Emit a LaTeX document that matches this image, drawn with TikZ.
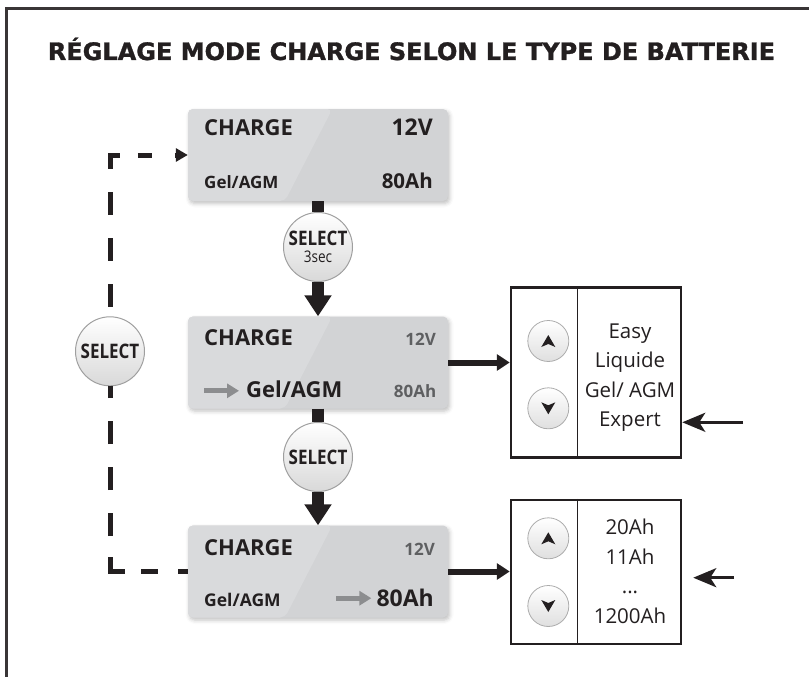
\documentclass[tikz,border=0pt]{standalone}
\usepackage{fontspec}
\setmainfont{Open Sans}
\newfontfamily\titlefont{DejaVu Sans Bold}[FakeBold=1.2]
\newfontfamily\btnfont[FakeStretch=0.85]{Open Sans}
\usetikzlibrary{arrows.meta,calc,shadows.blur}

\definecolor{lcdgray}{HTML}{D2D3D5}
\definecolor{lcdlight}{HTML}{D9DADC}
\definecolor{ink}{HTML}{231F20}
\definecolor{dimtext}{HTML}{5E5F61}
\definecolor{pointer}{HTML}{8C8D8F}

\begin{document}
\begin{tikzpicture}[
x=1pt, y=-1pt,
lcd/.style={
rounded corners=5pt,
fill=lcdgray,
minimum width=260pt,
minimum height=92pt,
blur shadow={shadow xshift=1.5pt, shadow yshift=-2.5pt,
shadow blur radius=4pt, shadow opacity=25},
path picture={\fill[lcdlight] (path picture bounding box.north west)
-- ($(path picture bounding box.north west)!0.555!(path picture bounding box.north east)$)
-- ($(path picture bounding box.south west)!0.373!(path picture bounding box.south east)$)
-- (path picture bounding box.south west) -- cycle;}
},
big/.style={font=\bfseries\fontsize{22}{26}\selectfont, text=ink, inner sep=0pt},
small/.style={font=\bfseries\fontsize{17}{20}\selectfont, text=ink, inner sep=0pt},
dim/.style={small, text=dimtext},
btn/.style={
circle,
draw=gray!75,
line width=1pt,
top color=white,
bottom color=gray!30,
minimum size=69pt,
inner sep=0pt,
align=center,
text=ink,
font=\btnfont\bfseries\fontsize{20}{20}\selectfont
},
key/.style={circle, draw=gray!65, line width=0.8pt,
top color=white, bottom color=gray!25, minimum size=41pt},
panel/.style={draw=ink, line width=2.5pt, minimum width=170pt, inner sep=0pt},
listtext/.style={font=\fontsize{20.5}{29.5}\selectfont, align=center,
text=ink, inner sep=0pt},
stub/.style={draw=ink, line width=12pt},
flow/.style={stub, -{Triangle[length=21pt,width=26pt]}},
side/.style={draw=ink, line width=6pt, -{Triangle[length=13pt,width=16pt]}},
feed/.style={draw=ink, line width=3pt, -{Stealth[length=23pt,width=19pt,inset=6pt]}},
loopline/.style={draw=ink, line width=5pt},
pointer/.style={draw=pointer, line width=5pt, -{Triangle[length=12pt,width=14pt]}}
]

\useasboundingbox (0,0) rectangle (809,677);

% frame and title
\draw[ink!90, line width=2.5pt] (812,8.5) -- (6.5,8.5) -- (6.5,680);
\node[anchor=base, font=\titlefont\fontsize{24}{28}\selectfont,
text=ink, inner sep=0pt] (title) at (411.5,60)
{RÉGLAGE MODE CHARGE SELON LE TYPE DE BATTERIE};

% displays
\node[lcd] (box1) at (318,155) {};
\node[lcd] (box2) at (318,362.5) {};
\node[lcd] (box3) at (318,571.5) {};

\node[big, anchor=base west] (chg1) at (204,135.7) {CHARGE};
\node[big, anchor=base east, font=\bfseries\fontsize{23}{26}\selectfont] (volt1) at (433,135.7) {12V};
\node[small, anchor=base west] (type1) at (204,188.3) {Gel/AGM};
\node[big, anchor=base east, font=\bfseries\fontsize{20.5}{24}\selectfont] (cap1) at (433,188.3) {80Ah};

\node[big, anchor=base west] (chg2) at (204,345.7) {CHARGE};
\node[dim, anchor=base east] (volt2) at (436,345.7) {12V};
\node[big, anchor=base west] (type2) at (246,397.3) {Gel/AGM};
\node[dim, anchor=base east] (cap2) at (436.5,397.3) {80Ah};

\node[big, anchor=base west] (chg3) at (204,555) {CHARGE};
\node[dim, anchor=base east] (volt3) at (435,555) {12V};
\node[small, anchor=base west, font=\bfseries\fontsize{17.5}{20}\selectfont] (type3) at (204,606.7) {Gel/AGM};
\node[big, anchor=base east, font=\bfseries\fontsize{23}{26}\selectfont] (cap3) at (434,606.7) {80Ah};

\draw[pointer] ([xshift=-42pt,yshift=6.5pt]type2.base west) -- ([xshift=-7pt,yshift=6.5pt]type2.base west);
\draw[pointer] ([xshift=-40pt,yshift=8.5pt]cap3.base west) -- ([xshift=-5pt,yshift=8.5pt]cap3.base west);

% select buttons
\node[btn] (sel1) at (318,247) {SELECT\\[-3pt]{\mdseries\fontsize{16}{16}\selectfont 3sec}};
\node[btn] (sel2) at (318,457) {SELECT};

\draw[stub] (box1.south) -- (sel1.north);
\draw[flow] (sel1.south) -- (box2.north);
\draw[stub] (box2.south) -- (sel2.north);
\draw[flow] (sel2.south) -- (box3.north);

% return loop
\coordinate (ctop) at (110,155);
\coordinate (cbot) at (110,571.5);
\node[btn] (selL) at (110,351.3) {SELECT};
\draw[loopline, dash pattern=on 0pt off 9.5pt on 23pt off 23pt on 23pt off 23pt on 23pt off 23pt
on 24pt off 17.7pt on 14pt off 23pt on 30pt, -{Triangle[length=12pt,width=13pt]}]
(selL.north) -- (ctop) -- (box1.west);
\draw[loopline, dash pattern=on 10pt off 20pt on 16.6pt off 16.7pt on 29pt off 21pt
on 23pt off 23pt on 23pt off 23pt on 23pt off 23pt on 30pt]
(box3.west) -- (cbot) -- (selL.south);

% choice panels
\node[panel, minimum height=170pt] (panA) at (596,372.7) {};
\node[panel, minimum height=144pt] (panB) at (596,572) {};
\draw[ink, line width=1.3pt] ([xshift=68pt]panA.north west) -- ([xshift=68pt]panA.south west);
\draw[ink, line width=1.3pt] ([xshift=68pt]panB.north west) -- ([xshift=68pt]panB.south west);

\node[key] (upA) at (548.3,341) {};
\node[key] (downA) at (548.3,408.3) {};
\node[key] (upB) at (548.3,538.3) {};
\node[key] (downB) at (548.3,606) {};
\fill[ink] ([shift={(0,-6)}]upA.center) -- ++(7,12) -- ++(-7,-3) -- ++(-7,3) -- cycle;
\fill[ink] ([shift={(0,6)}]downA.center) -- ++(7,-12) -- ++(-7,3) -- ++(-7,-3) -- cycle;
\fill[ink] ([shift={(0,-6)}]upB.center) -- ++(7,12) -- ++(-7,-3) -- ++(-7,3) -- cycle;
\fill[ink] ([shift={(0,6)}]downB.center) -- ++(7,-12) -- ++(-7,3) -- ++(-7,-3) -- cycle;

\node[listtext] (listA) at (630,377.7) {Easy\\Liquide\\Gel/ AGM\\Expert};
\node[listtext] (listB) at (630,571.2) {20Ah\\11Ah\\...\\1200Ah};

\draw[side] (box2.east) -- (box2.east -| panA.west);
\draw[side] (box3.east) -- (box3.east -| panB.west);

\coordinate (inA) at (743,422.3);
\coordinate (inB) at (734,577.7);
\draw[feed] (inA) -- (inA -| panA.east);
\draw[feed, shorten >=11pt] (inB) -- (inB -| panB.east);

\end{tikzpicture}
\end{document}
